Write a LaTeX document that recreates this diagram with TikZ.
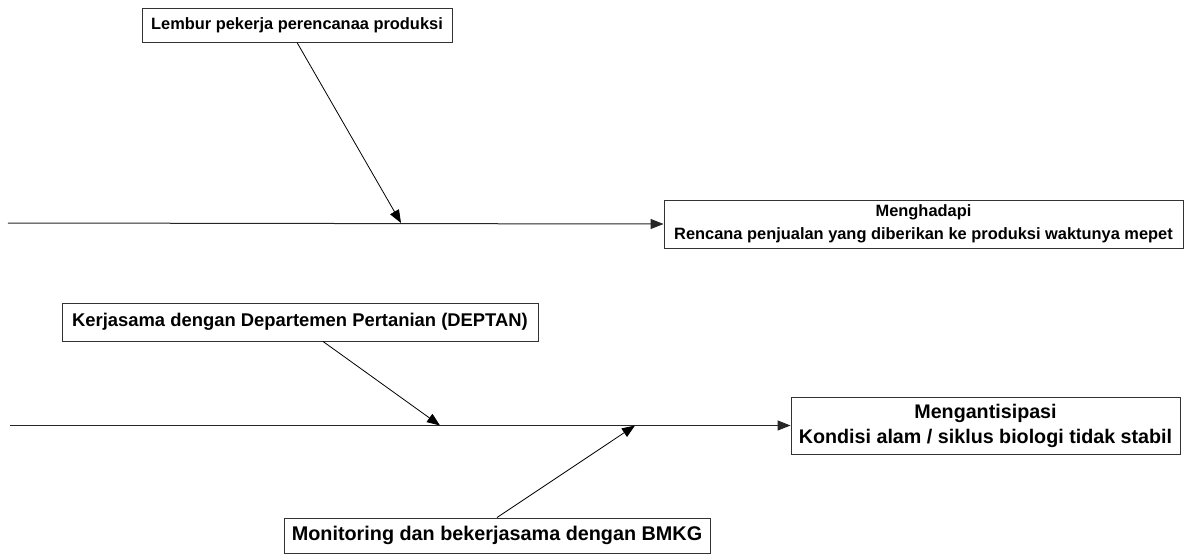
\documentclass[tikz,border=0pt]{standalone}
\usepackage{fontspec}
\setmainfont{Liberation Sans}
\usetikzlibrary{arrows.meta}
\begin{document}
\begin{tikzpicture}[x=1pt,y=-1pt,
  box/.style={draw=black!80, line width=0.9pt, fill=white, inner sep=0pt,
              align=center, font=\bfseries},
  fs/.style={font=\fontsize{#1}{#1*1.3}\bfseries\selectfont},
  spine/.style={draw=black!85, line width=1pt, -{Triangle[length=13pt,width=10pt]}},
  cause/.style={draw=black, line width=0.8pt, -{Triangle[length=13pt,width=10pt]}}]
\useasboundingbox (0,0) rectangle (1186,554);

% first problem: planning schedule
\node[box, font=\fontsize{16.4}{20}\bfseries\selectfont,
      minimum width=310, minimum height=34] (lembur) at (297,25)
  {Lembur pekerja perencanaa produksi};
\node[box, font=\fontsize{16.4}{22.5}\bfseries\selectfont,
      minimum width=519, minimum height=48] (jadwal) at (923.5,224)
  {Menghadapi\\Rencana penjualan yang diberikan ke produksi waktunya mepet};
\coordinate (s1) at (8,223);
\coordinate (c1) at (401,223);
\draw[spine] (s1) -- (jadwal.west);
\draw[cause] (lembur.south) -- (c1);

% second problem: natural conditions
\node[box, font=\fontsize{18.4}{23}\bfseries\selectfont,
      minimum width=476, minimum height=38] (deptan) at (300,322)
  {Kerjasama dengan Departemen Pertanian (DEPTAN)};
\node[box, font=\fontsize{19.7}{25}\bfseries\selectfont,
      minimum width=389, minimum height=57] (alam) at (985.5,425.5)
  {Mengantisipasi\\Kondisi alam / siklus biologi tidak stabil};
\node[box, font=\fontsize{19.8}{25}\bfseries\selectfont,
      minimum width=426, minimum height=35] (bmkg) at (497,535.5)
  {Monitoring dan bekerjasama dengan BMKG};
\coordinate (s2) at (10,425.5);
\coordinate (c2) at (440,425.5);
\coordinate (c3) at (635,425.5);
\draw[spine] (s2) -- (alam.west);
\draw[cause] ([xshift=23pt]deptan.south) -- (c2);
\draw[cause] (bmkg.north) -- (c3);
\end{tikzpicture}
\end{document}
